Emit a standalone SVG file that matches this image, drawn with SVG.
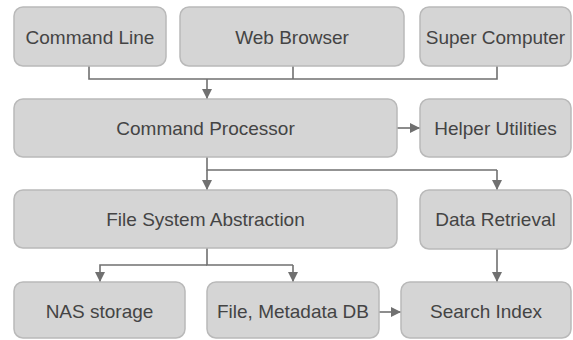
<svg xmlns="http://www.w3.org/2000/svg" width="573" height="340" viewBox="0 0 573 340">
  <style>
    .box { fill: #d5d5d5; stroke: #b9b9b9; stroke-width: 1.5; }
    .label { font-family: "Liberation Sans", Arial, sans-serif; font-size: 19px; fill: #444444; text-anchor: middle; }
    .wire { fill: none; stroke: #707070; stroke-width: 1.6; }
  </style>
  <defs>
    <marker id="arrow" viewBox="0 0 10 10" refX="10" refY="5" markerWidth="10" markerHeight="10" markerUnits="userSpaceOnUse" orient="auto">
      <path d="M0,0 L10,5 L0,10 Z" fill="#707070"/>
    </marker>
  </defs>
  <rect width="573" height="340" fill="#ffffff"/>

  <g id="connectors">
    <!-- inputs merge into the command processor -->
    <path class="wire" d="M89,66 V79 H497 V66"/>
    <path class="wire" d="M293,66 V79"/>
    <path class="wire" d="M207,79 V99" marker-end="url(#arrow)"/>
    <!-- processor to helper utilities -->
    <path class="wire" d="M397,128 H420" marker-end="url(#arrow)"/>
    <!-- processor fan-out -->
    <path class="wire" d="M207,157 V170 H497"/>
    <path class="wire" d="M207,170 V190" marker-end="url(#arrow)"/>
    <path class="wire" d="M497,170 V190" marker-end="url(#arrow)"/>
    <!-- file system abstraction fan-out -->
    <path class="wire" d="M207,248 V265 H293"/>
    <path class="wire" d="M207,265 H100 V282" marker-end="url(#arrow)"/>
    <path class="wire" d="M293,265 V282" marker-end="url(#arrow)"/>
    <!-- into search index -->
    <path class="wire" d="M497,249 V282" marker-end="url(#arrow)"/>
    <path class="wire" d="M379,312 H401" marker-end="url(#arrow)"/>
  </g>

  <g id="command-line">
    <rect class="box" x="14" y="7" width="152" height="59" rx="9"/>
    <text class="label" x="90" y="44">Command Line</text>
  </g>
  <g id="web-browser">
    <rect class="box" x="180" y="7" width="224" height="59" rx="9"/>
    <text class="label" x="292" y="44">Web Browser</text>
  </g>
  <g id="super-computer">
    <rect class="box" x="420" y="7" width="151" height="59" rx="9"/>
    <text class="label" x="495.5" y="44">Super Computer</text>
  </g>
  <g id="command-processor">
    <rect class="box" x="14" y="99" width="383" height="58" rx="9"/>
    <text class="label" x="205.5" y="135">Command Processor</text>
  </g>
  <g id="helper-utilities">
    <rect class="box" x="420" y="99" width="151" height="58" rx="9"/>
    <text class="label" x="495.5" y="135">Helper Utilities</text>
  </g>
  <g id="file-system-abstraction">
    <rect class="box" x="14" y="190" width="383" height="58" rx="9"/>
    <text class="label" x="205.5" y="226">File System Abstraction</text>
  </g>
  <g id="data-retrieval">
    <rect class="box" x="420" y="190" width="151" height="59" rx="9"/>
    <text class="label" x="495.5" y="226">Data Retrieval</text>
  </g>
  <g id="nas-storage">
    <rect class="box" x="14" y="282" width="171" height="56" rx="9"/>
    <text class="label" x="99.5" y="318">NAS storage</text>
  </g>
  <g id="file-metadata-db">
    <rect class="box" x="207" y="282" width="172" height="56" rx="9"/>
    <text class="label" x="293" y="318">File, Metadata DB</text>
  </g>
  <g id="search-index">
    <rect class="box" x="401" y="282" width="170" height="56" rx="9"/>
    <text class="label" x="486" y="318">Search Index</text>
  </g>
</svg>
